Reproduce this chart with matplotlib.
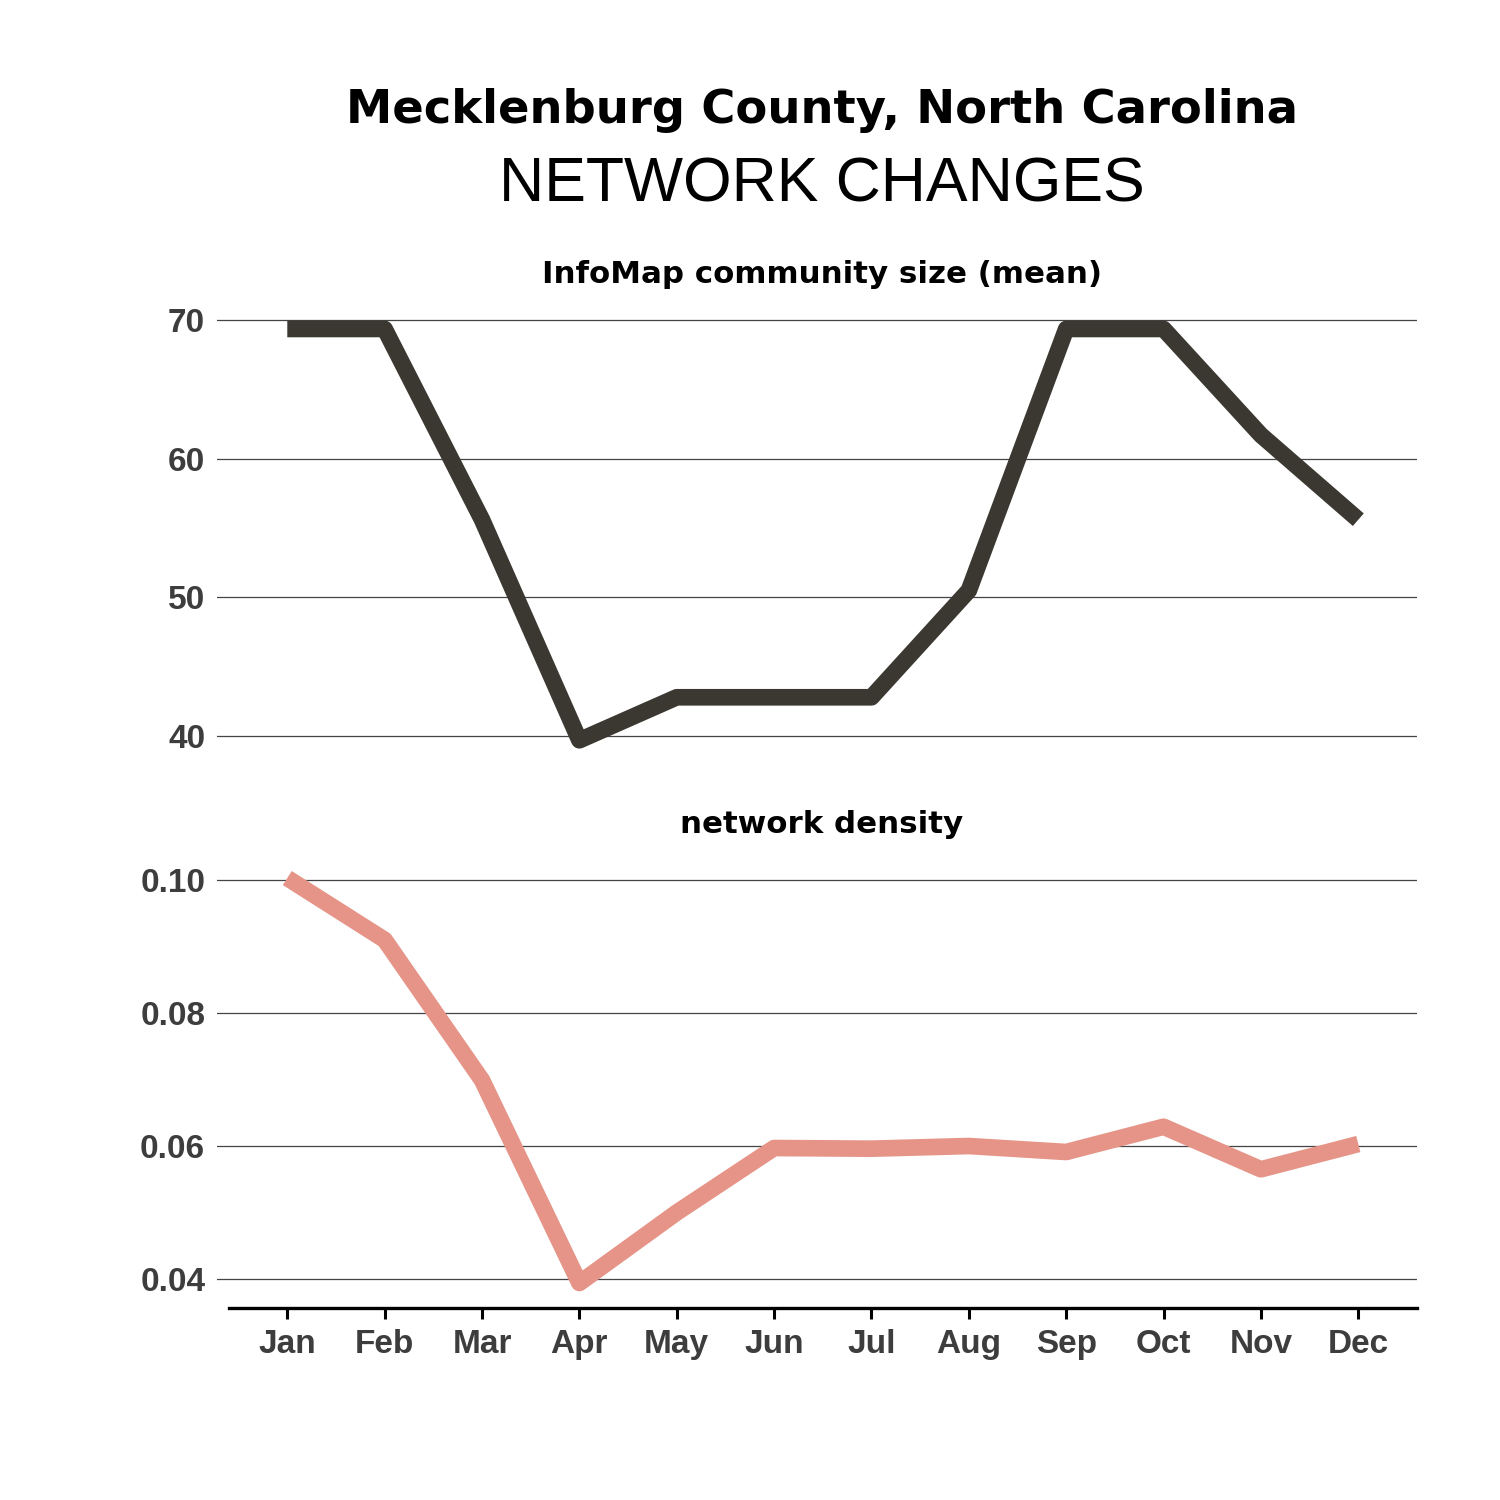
import matplotlib
matplotlib.use('Agg')
import matplotlib.pyplot as plt

plt.rcParams['font.family'] = ['Liberation Sans', 'DejaVu Sans']

# data
months = ['Jan', 'Feb', 'Mar', 'Apr', 'May', 'Jun', 'Jul', 'Aug', 'Sep', 'Oct', 'Nov', 'Dec']
community_size = [69.35, 69.35, 55.6, 39.7, 42.8, 42.8, 42.8, 50.5, 69.35, 69.35, 61.7, 55.6]
density = [0.1003, 0.0910, 0.0699, 0.0394, 0.0500, 0.0597, 0.0596, 0.0600, 0.0591, 0.0629, 0.0565, 0.0603]
size_ticks = [40, 50, 60, 70]
density_ticks = [0.04, 0.06, 0.08, 0.10]

dark = '#3a3830'
pink = '#e59487'
tick_grey = '#3d3d3d'
wide_bold = ['DejaVu Sans']   # the bold headings are set wide in the original

fig = plt.figure(figsize=(15, 15), dpi=100)
x = list(range(len(months)))

# pixel helpers (figure is 1500 x 1500)
def fx(px):
    return px / 1500.0

def fy(py):
    return 1 - py / 1500.0

ax1 = fig.add_axes([fx(217), fy(750), fx(1200), fy(313) - fy(750)])
ax2 = fig.add_axes([fx(217), fy(1308), fx(1200), fy(873.4) - fy(1308)])

ax1.plot(x, community_size, color=dark, lw=12, solid_capstyle='butt',
         solid_joinstyle='round', clip_on=False, zorder=3)
ax2.plot(x, density, color=pink, lw=12, solid_capstyle='butt',
         solid_joinstyle='round', clip_on=False, zorder=3)

ax1.set_ylim(39.0, 70.5)
ax1.set_yticks(size_ticks)
ax1.set_yticklabels([str(t) for t in size_ticks])
ax2.set_ylim(0.03564, 0.101)
ax2.set_yticks(density_ticks)
ax2.set_yticklabels(['%.2f' % t for t in density_ticks])

for ax in (ax1, ax2):
    ax.set_xlim(-0.722, 11.603)
    ax.set_facecolor('none')
    for s in ['top', 'right', 'left', 'bottom']:
        ax.spines[s].set_visible(False)
    ax.yaxis.grid(True, color='#444444', lw=0.9)
    ax.set_axisbelow(True)
    ax.tick_params(axis='y', length=0, pad=8.5, labelsize=24, labelcolor=tick_grey)
    for lab in ax.get_yticklabels():
        lab.set_fontweight('bold')

ax1.set_xticks([])
ax2.set_xticks(x)
ax2.set_xticklabels(months, fontsize=24, fontweight='bold', color=tick_grey)
ax2.tick_params(axis='x', length=8, width=2.2, color='black', pad=7)
ax2.spines['bottom'].set_visible(True)
ax2.spines['bottom'].set_linewidth(2.4)
ax2.spines['bottom'].set_color('black')
ax2.spines['bottom'].set_bounds(-0.6, 11.603)

fig.text(fx(822), fy(123), 'Mecklenburg County, North Carolina', ha='center',
         va='baseline', fontsize=33.5, fontweight='bold', family=wide_bold, color='black')
fig.text(fx(822), fy(202), 'NETWORK CHANGES', ha='center', va='baseline',
         fontsize=45, color='black')
fig.text(fx(822), fy(283), 'InfoMap community size (mean)', ha='center',
         va='baseline', fontsize=22.2, fontweight='bold', family=wide_bold, color='black')
fig.text(fx(822), fy(833), 'network density', ha='center', va='baseline',
         fontsize=22.2, fontweight='bold', family=wide_bold, color='black')

fig.savefig('out.png', dpi=100, facecolor='white')
